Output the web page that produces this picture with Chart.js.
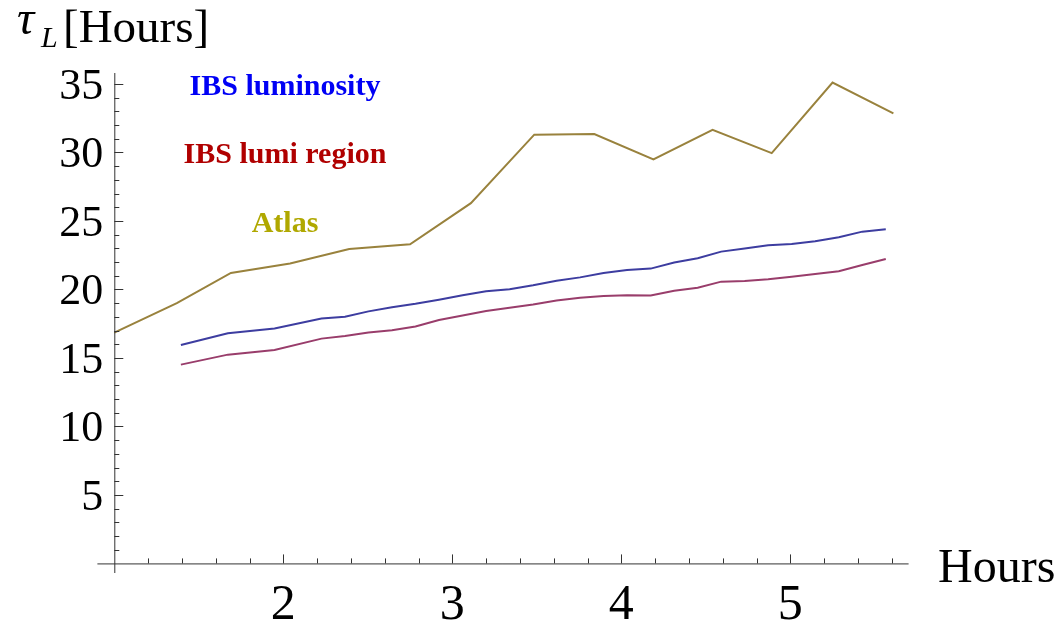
<!DOCTYPE html>
<html>
<head>
<meta charset="utf-8">
<script src="https://cdn.jsdelivr.net/npm/chart.js@4"></script>
<style>
  html, body { margin: 0; padding: 0; background: #fff; }
  #wrap { width: 1061px; height: 624px; position: relative; }
</style>
</head>
<body>
<div id="wrap"><canvas id="chart"></canvas></div>
<script>
// ---- data ----
var atlasX = [1.0, 1.37, 1.69, 2.04, 2.39, 2.75, 3.11, 3.485, 3.84, 4.19, 4.54, 4.89, 5.25, 5.61];
var atlasY = [16.85, 19.0, 21.2, 21.9, 22.95, 23.3, 26.3, 31.3, 31.35, 29.5, 31.65, 29.95, 35.1, 32.85];

var ibsX = [1.394, 1.672, 1.948, 2.226, 2.365, 2.504, 2.643, 2.782, 2.921, 3.061,
            3.200, 3.339, 3.478, 3.617, 3.756, 3.895, 4.034, 4.174, 4.313, 4.452,
            4.591, 4.730, 4.869, 5.008, 5.147, 5.287, 5.426, 5.565];
var ibsLumiY = [15.95, 16.8, 17.15, 17.87, 18.0, 18.4, 18.7, 18.95, 19.25, 19.57,
                19.86, 20.02, 20.3, 20.64, 20.88, 21.2, 21.42, 21.52, 21.96, 22.28,
                22.76, 22.98, 23.23, 23.32, 23.52, 23.81, 24.22, 24.39];
var ibsRegionY = [14.51, 15.24, 15.58, 16.41, 16.6, 16.85, 17.02, 17.3, 17.77, 18.09,
                  18.43, 18.67, 18.9, 19.2, 19.4, 19.52, 19.58, 19.56, 19.91, 20.13,
                  20.57, 20.62, 20.74, 20.93, 21.13, 21.33, 21.79, 22.22];

var xTicks = [2, 3, 4, 5];
var yTicks = [5, 10, 15, 20, 25, 30, 35];
var seriesNames = ["IBS luminosity", "IBS lumi region", "Atlas"];
var labelColors = ["#0000f5", "#b00000", "#b0a800"];
var labelAnchorY = [34.2, 29.2, 24.2];   // where the in-plot labels sit (data units)
var xTitle = "Hours";

function pts(xs, ys) {
  return xs.map(function (x, i) { return { x: x, y: ys[i] }; });
}

// Mathematica-style axes: crossing at (1, 0), ticks pointing inward.
var mathAxes = {
  id: "mathAxes",
  afterDraw: function (chart) {
    var ctx = chart.ctx;
    var xs = chart.scales.x, ys = chart.scales.y;
    var x0 = xs.getPixelForValue(1), y0 = ys.getPixelForValue(0);
    var i, p;
    ctx.save();
    ctx.strokeStyle = "#333";
    ctx.lineWidth = 1;
    ctx.beginPath();
    ctx.moveTo(xs.left, y0 + 0.5); ctx.lineTo(xs.right, y0 + 0.5);
    ctx.moveTo(x0 + 0.5, ys.top); ctx.lineTo(x0 + 0.5, ys.bottom);
    // x minor/major ticks (every 0.2)
    for (i = 6; i <= 28; i++) {
      p = Math.round(xs.getPixelForValue(i / 5)) + 0.5;
      ctx.moveTo(p, y0);
      ctx.lineTo(p, y0 - (i % 5 === 0 ? 9 : 5));
    }
    // y minor/major ticks (every 1)
    for (i = 1; i <= 35; i++) {
      p = Math.round(ys.getPixelForValue(i)) + 0.5;
      ctx.moveTo(x0, p);
      ctx.lineTo(x0 + (i % 5 === 0 ? 9 : 5), p);
    }
    ctx.stroke();

    ctx.fillStyle = "#000";
    ctx.font = "50px 'Liberation Serif', 'Times New Roman', serif";
    ctx.textAlign = "center";
    ctx.textBaseline = "alphabetic";
    xTicks.forEach(function (v) {
      ctx.fillText(String(v), xs.getPixelForValue(v), 619);
    });
    ctx.font = "44px 'Liberation Serif', 'Times New Roman', serif";
    ctx.textAlign = "right";
    yTicks.forEach(function (v) {
      ctx.fillText(String(v), x0 - 11, ys.getPixelForValue(v) + 15);
    });

    // axis titles
    ctx.textAlign = "left";
    ctx.font = "48px 'Liberation Serif', 'Times New Roman', serif";
    ctx.fillText(xTitle, 938, 582);
    ctx.font = "italic 48px 'Liberation Serif', 'Times New Roman', serif";
    ctx.fillText("\u03c4", 17, 34);
    ctx.font = "italic 30px 'Liberation Serif', 'Times New Roman', serif";
    ctx.fillText("L", 41, 47);
    ctx.font = "47px 'Liberation Serif', 'Times New Roman', serif";
    ctx.fillText("[Hours]", 63, 42);

    // in-plot series labels
    ctx.textAlign = "center";
    ctx.font = "bold 30px 'Liberation Serif', 'Times New Roman', serif";
    seriesNames.forEach(function (name, k) {
      ctx.fillStyle = labelColors[k];
      ctx.fillText(name, xs.getPixelForValue(2.01), ys.getPixelForValue(labelAnchorY[k]));
    });
    ctx.restore();
  }
};

new Chart(document.getElementById("chart"), {
  type: "line",
  data: {
    datasets: [
      { label: seriesNames[0], data: pts(ibsX, ibsLumiY), borderColor: "rgb(61,61,160)" },
      { label: seriesNames[1], data: pts(ibsX, ibsRegionY), borderColor: "rgb(153,61,107)" },
      { label: seriesNames[2], data: pts(atlasX, atlasY), borderColor: "rgb(153,130,61)" }
    ]
  },
  options: {
    responsive: true,
    maintainAspectRatio: false,
    animation: false,
    layout: { padding: { left: 97.4, right: 152.4, top: 73, bottom: 51 } },
    elements: {
      line: { borderWidth: 2, tension: 0, fill: false },
      point: { radius: 0, hoverRadius: 0 }
    },
    plugins: { legend: { display: false }, tooltip: { enabled: false } },
    scales: {
      x: { type: "linear", min: 0.9, max: 5.7, display: false },
      y: { type: "linear", min: -0.7, max: 35.8, display: false }
    }
  },
  plugins: [mathAxes]
});
</script>
</body>
</html>
